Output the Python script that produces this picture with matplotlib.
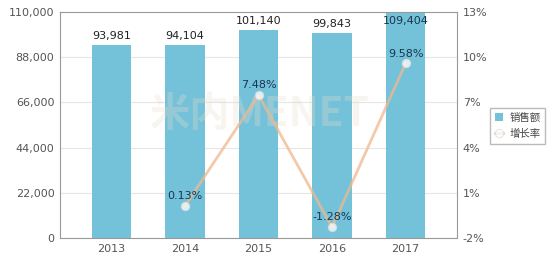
import matplotlib.pyplot as plt
import numpy as np

plt.rcParams['font.family'] = ['DejaVu Sans', 'Noto Sans CJK SC']

# dados
anos = ['2013', '2014', '2015', '2016', '2017']
vendas = [93981, 94104, 101140, 99843, 109404]
crescimento = [None, 0.13, 7.48, -1.28, 9.58]

cor_barra = '#74c2d9'
cor_linha = '#f0b88e'
cinza = '#555555'

fig = plt.figure(figsize=(5.53, 2.54), dpi=100)
ax = fig.add_axes([0.1085, 0.063, 0.718, 0.89])
x = np.arange(len(anos))

ax.bar(x, vendas, width=0.54, color=cor_barra, zorder=2, label='销售额')
ax.set_ylim(0, 110000)
ax.set_yticks(np.arange(0, 110001, 22000))
ax.set_yticklabels([f'{v:,}' for v in range(0, 110001, 22000)])
ax.set_xlim(-0.7, 4.7)
ax.set_xticks(x)
ax.set_xticklabels(anos)
ax.grid(axis='y', color='#e6e6e6', linewidth=0.8, zorder=0)
ax.tick_params(length=0, labelsize=8, colors=cinza, pad=4)
for s in ax.spines.values():
    s.set_color('#999999')
    s.set_linewidth(0.8)

# marca d'agua
ax.text(0.5, 0.545, '米内MENET', transform=ax.transAxes, ha='center', va='center',
        fontsize=29, fontweight='bold', color='#e9dccf', alpha=0.3, zorder=2.5,
        family=['Noto Sans CJK SC', 'DejaVu Sans'])

for i, v in enumerate(vendas):
    if v > 105000:
        ax.text(i, v - 1500, f'{v:,}', ha='center', va='top', fontsize=8, color='#1a3550', zorder=5)
    else:
        ax.text(i, v + 1800, f'{v:,}', ha='center', va='bottom', fontsize=8, color='#222222', zorder=5)

# eixo da direita (taxa de crescimento)
ax2 = ax.twinx()
ax2.set_position(ax.get_position())
xs = x[1:]
ys = crescimento[1:]
ax2.plot(xs, ys, color=cor_linha, alpha=0.75, linewidth=2, zorder=3, label='增长率',
         marker='o', markersize=6, markerfacecolor='white', markeredgecolor='#dddddd',
         markeredgewidth=0.8)
ax2.set_ylim(-2, 13)
ax2.set_yticks(np.arange(-2, 14, 3))
ax2.set_yticklabels([f'{v}%' for v in range(-2, 14, 3)])
ax2.tick_params(length=0, labelsize=8, colors=cinza, pad=4)
for s in ax2.spines.values():
    s.set_visible(False)

for xi, yi in zip(xs, ys):
    ax2.annotate(f'{yi:.2f}%', (xi, yi), xytext=(0, 7), textcoords='offset points',
                 ha='center', va='center', fontsize=8, color='#1a3550', zorder=5)

# legenda
h1, l1 = ax.get_legend_handles_labels()
h2, l2 = ax2.get_legend_handles_labels()
leg = fig.legend(h1 + h2, l1 + l2, loc='center left', bbox_to_anchor=(0.886, 0.505),
                 frameon=True, edgecolor='#aaaaaa', fancybox=False,
                 handlelength=0.8, handletextpad=0.6, borderpad=0.45, labelspacing=0.6,
                 borderaxespad=0, prop={'family': ['Noto Sans CJK SC', 'DejaVu Sans'], 'size': 7.5})
for t in leg.get_texts():
    t.set_color('#444444')

plt.savefig('out.png', dpi=100)
